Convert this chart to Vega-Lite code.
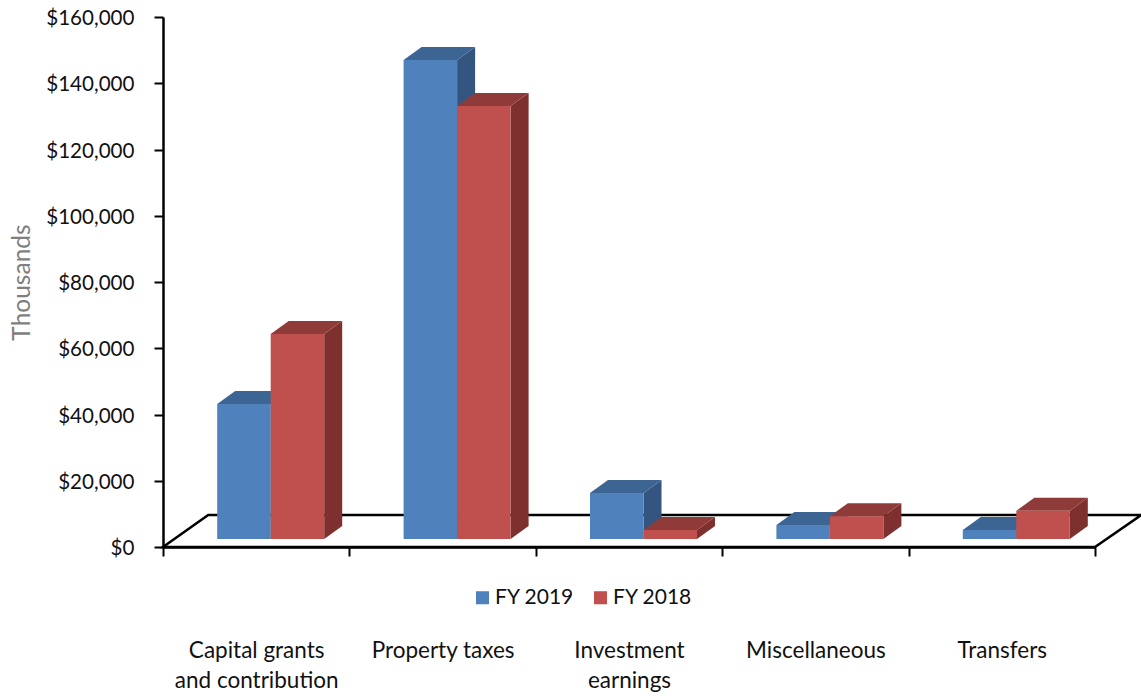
{
"$schema":"https://vega.github.io/schema/vega-lite/v6.json",
"width":932,"height":530,"autosize":"none",
"padding":{"left":163,"top":17,"right":46,"bottom":149},
"background":"white",
"config":{"view":{"stroke":null},"font":"Lato"},
"data":{"values":[
{"category":"Capital grants and contribution","series":"FY 2019","value":40750},
{"category":"Capital grants and contribution","series":"FY 2018","value":61900},
{"category":"Property taxes","series":"FY 2019","value":144600},
{"category":"Property taxes","series":"FY 2018","value":130700},
{"category":"Investment earnings","series":"FY 2019","value":13900},
{"category":"Investment earnings","series":"FY 2018","value":2700},
{"category":"Miscellaneous","series":"FY 2019","value":4200},
{"category":"Miscellaneous","series":"FY 2018","value":6900},
{"category":"Transfers","series":"FY 2019","value":2700},
{"category":"Transfers","series":"FY 2018","value":8500}
]},
"encoding":{
"x":{"field":"category","type":"nominal","title":null,"sort":null,
"scale":{"padding":0,"domain":["Capital grants and contribution","Property taxes","Investment earnings","Miscellaneous","Transfers"]},
"axis":{"labelAngle":0,"labelFont":"Lato","labelFontSize":22.5,"labelColor":"#111111","labelPadding":83,"labelLimit":400,"labelLineHeight":30,"labelBaseline":"top",
"labelExpr":"datum.label=='Capital grants and contribution' ? ['Capital grants','and contribution'] : datum.label=='Investment earnings' ? ['Investment','earnings'] : datum.label",
"tickBand":"extent","tickSize":9,"tickWidth":2,"tickColor":"#000000","domainColor":"#000000","domainWidth":2.5,"grid":false}},
"y":{"field":"value","type":"quantitative","title":"Thousands","stack":null,
"scale":{"domain":[0,160000],"nice":false},
"axis":{"values":[0,20000,40000,60000,80000,100000,120000,140000,160000],"format":"$,.0f","labelFont":"Lato","labelFontSize":20.6,"labelColor":"#111111","labelPadding":20,"labelOffset":1.5,
"tickSize":9,"tickWidth":2,"tickColor":"#000000","domainColor":"#000000","domainWidth":2.5,"grid":false,
"titleFont":"Lato","titleFontSize":24.5,"titleFontWeight":"normal","titleColor":"#7F7F7F","titleX":-129,"titleY":265,"titleAngle":-90}}
},
"layer":[
{"data":{"values":[{"value":0}]},
 "mark":{"type":"point","filled":false,"size":4,"opacity":1,"stroke":"#000000","strokeWidth":2.5,"fill":null,"shape":"M-93.2,0L-48,-32L885,-32L838.8,0Z"},
 "encoding":{"x":{"datum":"Capital grants and contribution"},"y":{"field":"value","type":"quantitative"}}},
{"transform":[{"filter":"datum.series=='FY 2019'"}],
 "mark":{"type":"point","filled":true,"size":4,"opacity":1,"fill":"#34557F","strokeWidth":0,"xOffset":-12.25,"yOffset":-8,
 "shape":{"expr":"'M26.75,0L44.75,-13L44.75,'+(datum.value*0.0033125-13)+'L26.75,'+(datum.value*0.0033125)+'Z'"}}},
{"transform":[{"filter":"datum.series=='FY 2019'"}],
 "mark":{"type":"point","filled":true,"size":4,"opacity":1,"fill":"#3D6593","strokeWidth":0,"xOffset":-12.25,"yOffset":-8,
 "shape":"M-26.75,0L-8.75,-13L44.75,-13L26.75,0Z"}},
{"transform":[{"filter":"datum.series=='FY 2019'"}],
 "mark":{"type":"bar","width":53.5,"xOffset":-12.25,"yOffset":-8,"y2Offset":-8},
 "encoding":{"y2":{"datum":0},"color":{"field":"series","type":"nominal","scale":{"domain":["FY 2019","FY 2018"],"range":["#4F81BD","#C0504D"]},
 "legend":{"title":null,"orient":"none","direction":"horizontal","legendX":309,"legendY":570,"labelFont":"Lato","labelFontSize":21,"labelColor":"#111111","symbolType":"square","symbolSize":170,"symbolStrokeWidth":0,"columnPadding":15,"labelOffset":2}}}},
{"transform":[{"filter":"datum.series=='FY 2018'"}],
 "mark":{"type":"point","filled":true,"size":4,"opacity":1,"fill":"#7D302E","strokeWidth":0,"xOffset":41.25,"yOffset":-8,
 "shape":{"expr":"'M26.75,0L44.75,-13L44.75,'+(datum.value*0.0033125-13)+'L26.75,'+(datum.value*0.0033125)+'Z'"}}},
{"transform":[{"filter":"datum.series=='FY 2018'"}],
 "mark":{"type":"point","filled":true,"size":4,"opacity":1,"fill":"#8F3B39","strokeWidth":0,"xOffset":41.25,"yOffset":-8,
 "shape":"M-26.75,0L-8.75,-13L44.75,-13L26.75,0Z"}},
{"transform":[{"filter":"datum.series=='FY 2018'"}],
 "mark":{"type":"bar","width":53.5,"xOffset":41.25,"yOffset":-8,"y2Offset":-8},
 "encoding":{"y2":{"datum":0},"color":{"field":"series","type":"nominal"}}}
]
}
